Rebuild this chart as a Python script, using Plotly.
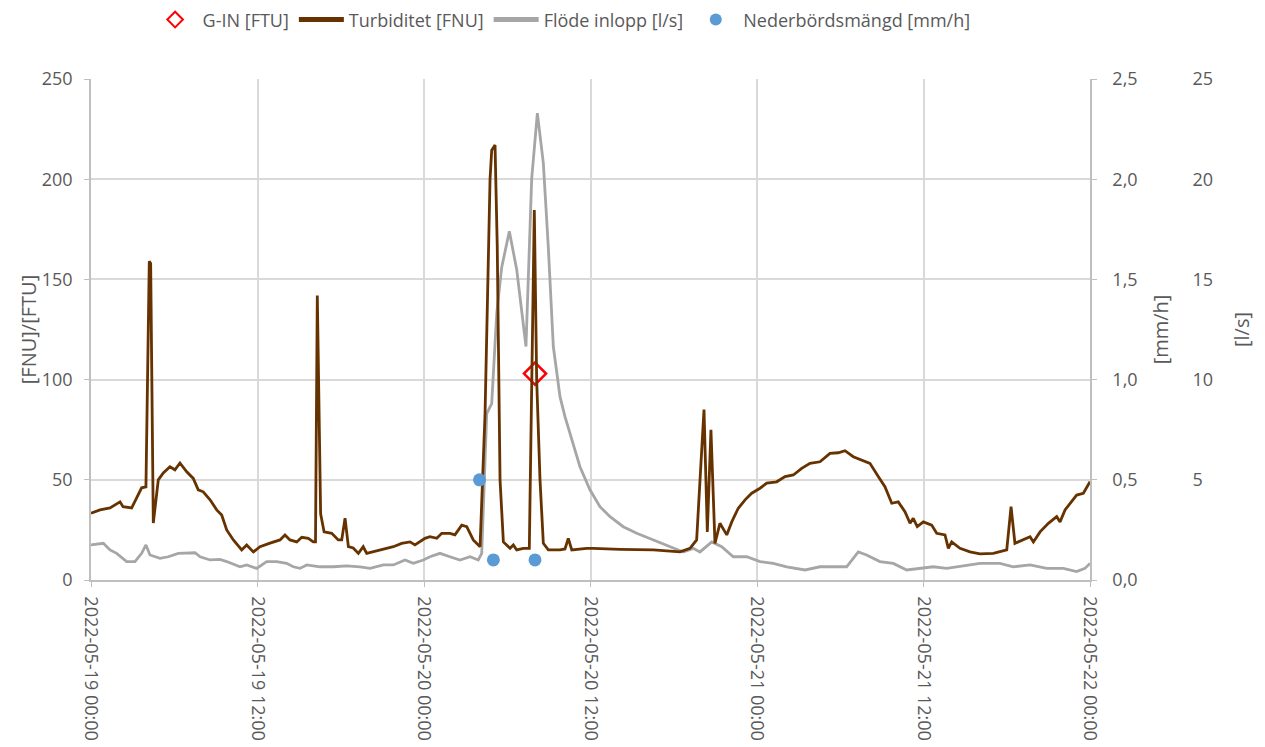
import pandas as pd
import plotly.graph_objects as go

T0 = pd.Timestamp("2022-05-19 00:00")

# Turbiditet [FNU] : hours since 2022-05-19 00:00, value
turb_h = [0.0, 0.65, 1.37, 2.09, 2.31, 2.93, 3.29, 3.65, 3.96, 4.2, 4.3, 4.49, 4.85, 5.21, 5.69,
          6.05, 6.41, 6.9, 7.37, 7.73, 8.09, 8.58, 9.06, 9.42, 9.78, 10.26, 10.86, 11.22, 11.7,
          12.18, 12.9, 13.62, 13.98, 14.34, 14.83, 15.19, 15.66, 16.02, 16.18, 16.31, 16.55, 16.8,
          17.35, 17.82, 18.07, 18.31, 18.55, 18.9, 19.27, 19.62, 19.87, 20.83, 21.79, 22.39, 22.99,
          23.35, 24.07, 24.43, 24.92, 25.28, 25.87, 26.23, 26.72, 27.08, 27.55, 28.04, 28.4, 28.76,
          28.88, 29.12, 29.28, 29.48, 29.72, 30.2, 30.44, 30.68, 31.16, 31.59, 31.76, 31.95, 32.12,
          32.36, 32.6, 32.96, 33.8, 34.16, 34.4, 34.65, 35.73, 36.2, 38.13, 40.53, 42.45, 43.17,
          43.65, 44.01, 44.18, 44.42, 44.68, 44.97, 45.33, 45.82, 46.18, 46.65, 47.14, 47.62, 48.22,
          48.7, 49.42, 50.02, 50.62, 51.22, 51.82, 52.54, 53.26, 53.86, 54.34, 54.94, 55.55, 56.14,
          56.74, 57.22, 57.71, 58.18, 58.67, 59.03, 59.26, 59.55, 59.99, 60.59, 60.95, 61.55, 61.79,
          62.03, 62.63, 63.35, 64.07, 65.03, 66.0, 66.31, 66.59, 67.19, 67.68, 67.92, 68.4, 69.0,
          69.6, 69.84, 70.2, 71.04, 71.52, 72.0]
turb_v = [33.3, 35, 36, 39, 36.6, 36, 41, 46, 46.5, 159, 158, 28.4, 50, 53.4, 56.5,
          55, 58.4, 54, 50.7, 45, 44, 40, 35, 32.4, 25, 20, 15, 17.5, 14,
          16.6, 18.4, 20, 22.5, 20, 19, 21.3, 20.8, 19, 19, 142, 33, 24,
          23.3, 20, 20, 30.8, 16.6, 16, 13.3, 16.6, 13.3, 15, 16.6, 18.3, 19,
          17.5, 20.8, 21.6, 20.8, 23.3, 23.3, 22.5, 27.4, 26.6, 20, 16.6, 83, 200,
          214.5, 217, 166, 50, 19, 15.8, 17.5, 15, 15.8, 15.8, 100, 184.6, 100,
          50, 18.3, 15, 15, 15.5, 20.8, 15, 15.8, 15.8, 15.3, 15, 14, 15.8,
          20, 66.5, 85, 24, 75, 18.3, 28.3, 22.5, 29, 35.8, 40, 43.3, 45.8,
          48.3, 49, 51.6, 52.4, 55.7, 58.2, 59, 63.2, 63.5, 64.5, 61.5, 60, 58.2,
          51.6, 46.6, 38.3, 39, 34, 28.3, 30.8, 26.6, 29, 27.4, 23.3, 22.5, 15.8,
          19, 15.8, 14, 13, 13.3, 15, 36.6, 18.3, 20, 21.6, 19, 24, 28.3,
          31.6, 29, 35, 42.4, 43.3, 49]

# Flöde inlopp [l/s]
flow_h = [0.0, 0.89, 1.37, 1.85, 2.57, 3.17, 3.65, 3.96, 4.25, 4.97, 5.57, 6.29, 7.5, 7.86, 8.58,
          9.3, 9.78, 10.74, 11.22, 11.94, 12.66, 13.38, 14.1, 14.58, 15.06, 15.55, 16.5, 17.46,
          18.43, 19.39, 20.11, 21.07, 21.79, 22.63, 23.23, 23.95, 24.43, 25.15, 25.87, 26.59, 27.32,
          27.91, 28.16, 28.52, 28.88, 29.24, 29.6, 30.15, 30.68, 31.35, 31.76, 32.17, 32.6, 32.96,
          33.32, 33.8, 34.16, 34.76, 35.24, 35.96, 36.68, 37.41, 38.36, 39.33, 40.53, 41.73, 42.69,
          43.41, 43.89, 44.74, 45.46, 46.29, 47.26, 48.22, 49.17, 50.14, 51.46, 52.54, 53.74, 54.46,
          55.3, 55.9, 56.86, 57.82, 58.79, 59.75, 60.7, 61.67, 63.11, 64.07, 65.51, 66.47, 67.68,
          68.88, 70.08, 71.04, 71.64, 72.0]
flow_v = [1.75, 1.83, 1.5, 1.33, 0.92, 0.92, 1.33, 1.75, 1.25, 1.08, 1.16, 1.33, 1.36, 1.16, 1.0,
          1.03, 0.92, 0.66, 0.75, 0.58, 0.92, 0.92, 0.83, 0.66, 0.58, 0.75, 0.66, 0.66,
          0.7, 0.66, 0.58, 0.75, 0.75, 1.0, 0.83, 1.0, 1.16, 1.33, 1.16, 1.0, 1.16,
          1.0, 1.33, 8.3, 8.8, 13.3, 15.6, 17.4, 15.5, 11.65, 20.0, 23.3, 20.8, 16.6,
          11.65, 9.15, 8.15, 6.82, 5.65, 4.5, 3.66, 3.16, 2.66, 2.33, 2.0, 1.66, 1.4,
          1.58, 1.4, 1.9, 1.66, 1.16, 1.16, 0.92, 0.83, 0.66, 0.5, 0.66, 0.66, 0.66,
          1.4, 1.25, 0.92, 0.83, 0.5, 0.58, 0.66, 0.58, 0.75, 0.83, 0.83, 0.66, 0.75,
          0.58, 0.58, 0.42, 0.58, 0.83]

# Nederbördsmängd [mm/h]
rain_h = [28.0, 29.0, 32.0]
rain_v = [0.5, 0.1, 0.1]

# G-IN [FTU]
gin_h = [32.0]
gin_v = [103]

x_ticks_h = [0, 12, 24, 36, 48, 60, 72]


def ts(hours):
    return T0 + pd.to_timedelta(hours, unit="h")


FONT = "Open Sans"
TXT = "#595959"
GRID = "#d9d9d9"
AX = "#bfbfbf"
TICKF = dict(size=18, color=TXT)
TITLEF = dict(size=20, color=TXT)

fig = go.Figure()

fig.add_trace(go.Scatter(x=ts(gin_h), y=gin_v, name="G-IN [FTU]", mode="markers",
                         marker=dict(symbol="diamond-open", size=17, color="#ff0000",
                                     line=dict(width=2.5, color="#ff0000")),
                         yaxis="y2", legendrank=1))
fig.add_trace(go.Scatter(x=ts(turb_h), y=turb_v, name="Turbiditet [FNU]", mode="lines",
                         line=dict(color="#663300", width=2.8), yaxis="y2", legendrank=2))
fig.add_trace(go.Scatter(x=ts(flow_h), y=flow_v, name="Flöde inlopp [l/s]", mode="lines",
                         line=dict(color="#a6a6a6", width=2.8), yaxis="y", legendrank=3))
fig.add_trace(go.Scatter(x=ts(rain_h), y=rain_v, name="Nederbördsmängd [mm/h]", mode="markers",
                         marker=dict(size=13, color="#5b9bd5"), yaxis="y3", legendrank=4))

W, H = 1265, 747
ML, MR, MT, MB = 91, 40, 79, 167
pw = W - ML - MR
x_end = (1090 - ML) / pw

fig.update_layout(
    width=W, height=H,
    margin=dict(l=ML, r=MR, t=MT, b=MB, autoexpand=False),
    paper_bgcolor="white", plot_bgcolor="white",
    separators=",.",
    font=dict(family=FONT, size=18, color=TXT),
    showlegend=True,
    legend=dict(orientation="h", x=0.415, xanchor="center", y=1.155, yanchor="top",
                font=dict(size=18, color=TXT), itemwidth=45, traceorder="normal",
                itemsizing="constant"),
    xaxis=dict(domain=[0, x_end], type="date",
               range=[ts(0), ts(72)],
               tickvals=list(ts(x_ticks_h)), tickformat="%Y-%m-%d %H:%M",
               tickangle=90, showgrid=True, gridcolor=GRID, gridwidth=1.5,
               showline=True, linecolor=AX, linewidth=1.5,
               ticks="outside", ticklen=5, tickcolor=AX, ticklabelstandoff=6,
               tickfont=TICKF, zeroline=False),
    # l/s axis (free, far right)
    yaxis=dict(range=[0, 25], tickvals=[0, 5, 10, 15, 20, 25],
               ticktext=["", "5", "10", "15", "20", "25"],
               side="right", anchor="free", position=0.9705,
               showgrid=False, showline=False, ticks="", zeroline=False,
               tickfont=TICKF,
               title=dict(text="[l/s]", font=TITLEF, standoff=22)),
    # FNU/FTU axis (left)
    yaxis2=dict(range=[0, 250], tickvals=[0, 50, 100, 150, 200, 250],
                overlaying="y", side="left", anchor="x",
                showgrid=True, gridcolor=GRID, gridwidth=1.5,
                showline=True, linecolor=AX, linewidth=1.5,
                ticks="outside", ticklen=5, tickcolor=AX, ticklabelstandoff=8,
                zeroline=False, tickfont=TICKF,
                title=dict(text="[FNU]/[FTU]", font=TITLEF, standoff=0)),
    # mm/h axis (right)
    yaxis3=dict(range=[0, 2.5], tickvals=[0, 0.5, 1.0, 1.5, 2.0, 2.5], tickformat=".1f",
                overlaying="y", side="right", anchor="x",
                showgrid=False, showline=True, linecolor=AX, linewidth=1.5,
                ticks="outside", ticklen=5, tickcolor=AX, ticklabelstandoff=12,
                zeroline=False, tickfont=TICKF,
                title=dict(text="[mm/h]", font=TITLEF, standoff=17)),
)

fig.write_html("out.html")
